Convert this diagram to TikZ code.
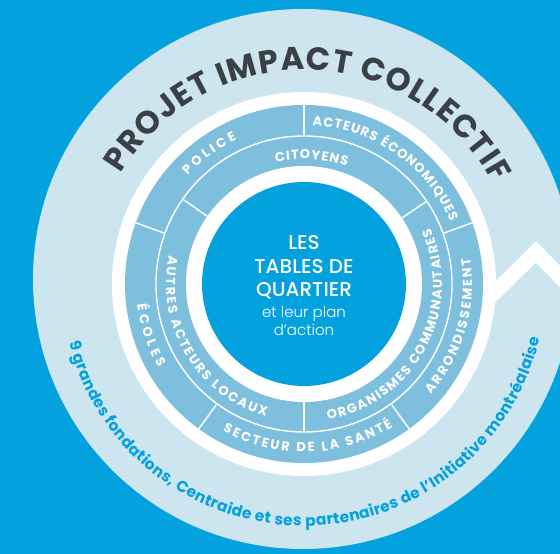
\documentclass[tikz,border=0pt]{standalone}
\usepackage{fontspec}
\setmainfont{Poppins}
\newfontfamily\mediumfont{Poppins}[UprightFont=* Medium]
\newfontfamily\lightfont{Poppins}[UprightFont=* Light]
\usetikzlibrary{calc,decorations.text}

\definecolor{skyblue}{HTML}{03A1DE}
\definecolor{paleblue}{HTML}{CCE5EF}
\definecolor{bandblue}{HTML}{7DBFDC}
\definecolor{slate}{HTML}{3B3F46}

\begin{document}
\begin{tikzpicture}[
  x=1pt, y=1pt,
  % thin white cuts between the sectors of a band
  divider/.style={draw=white, line width=1.4pt},
  % caps spread along an arc (clockwise arc: tops outward, ccw arc: tops inward)
  bandlabel/.style={decorate, decoration={text along path, text align=fit to path,
    text color=white, text={|\bfseries\fontsize{13}{13}\selectfont|#1}}},
  % lines of the centre disk
  hub/.style={text=white, anchor=base, inner sep=0pt},
]
  \clip (0,0) rectangle (560,554);
  \fill[skyblue] (0,0) rectangle (560,554);

  % === Outer arrow ring ===
  \fill[paleblue] (303,275) circle[radius=270];
  \coordinate (notchL) at (487,254);
  \coordinate (notchT) at (536,302);
  \coordinate (notchR) at (585,252);
  \draw[white, line width=15pt, miter limit=10] (notchL) -- (notchT) -- (notchR);

  % === Bands ===
  \coordinate (O) at (304,270);
  \fill[white] (O) circle[radius=192];
  \fill[bandblue] (O) circle[radius=179];
  \draw[white, line width=1.4pt] (O) circle[radius=148];
  \fill[white] (O) circle[radius=118];
  \fill[skyblue] (O) circle[radius=102];

  % outer band cuts
  \foreach \a in {20,90,160,234,306}
    \draw[divider] ($(O)+(\a:148)$) -- ($(O)+(\a:179)$);
  % inner band cuts
  \foreach \a in {34,145,270}
    \draw[divider] ($(O)+(\a:118)$) -- ($(O)+(\a:148)$);

  % === Band labels ===
  % outer band
  \path[bandlabel=POLICE] ($(O)+(137:159)$) arc[start angle=137, end angle=115, radius=159];
  \path[bandlabel=ACTEURS ÉCONOMIQUES] ($(O)+(87:159)$) arc[start angle=87, end angle=23, radius=159];
  \path[bandlabel=ARRONDISSEMENT] ($(O)+(-41:168)$) arc[start angle=-41, end angle=9, radius=168];
  \path[bandlabel=SECTEUR DE LA SANTÉ] ($(O)+(241:168)$) arc[start angle=241, end angle=302, radius=168];
  \path[bandlabel=ÉCOLES] ($(O)+(187:168)$) arc[start angle=187, end angle=210, radius=168];
  % inner band
  \path[bandlabel=CITOYENS] ($(O)+(103:125)$) arc[start angle=103, end angle=70, radius=125];
  \path[bandlabel=AUTRES ACTEURS LOCAUX] ($(O)+(168:138)$) arc[start angle=168, end angle=254, radius=138];
  \path[bandlabel=ORGANISMES COMMUNAUTAIRES] ($(O)+(-80:138)$) arc[start angle=-80, end angle=24, radius=138];

  % === Ring titles ===
  \path[decorate, decoration={text along path, text align=fit to path, text color=slate,
      text={|\bfseries\fontsize{32}{32}\selectfont|PROJET IMPACT COLLECTIF}}]
    ($(O)+(149:214)$) arc[start angle=149, end angle=28, radius=214];
  \path[decorate, decoration={text along path, text align=fit to path, text color=skyblue,
      text={|\bfseries\fontsize{15.5}{15.5}\selectfont|9 grandes fondations, Centraide et ses partenaires de l’Initiative montréalaise}}]
    ($(O)+(194:242)$) arc[start angle=194, end angle=347, radius=242];

  % === Centre ===
  \node[hub, font=\mediumfont\fontsize{20}{20}\selectfont] (les) at (304,304) {LES};
  \node[hub, font=\mediumfont\fontsize{20}{20}\selectfont] (tables) at (304,280) {TABLES DE};
  \node[hub, font=\mediumfont\fontsize{20}{20}\selectfont] (quartier) at (304,257) {QUARTIER};
  \node[hub, font=\lightfont\fontsize{15}{15}\selectfont] (plan) at (304,236) {et leur plan};
  \node[hub, font=\lightfont\fontsize{15}{15}\selectfont] (action) at (304,218) {d’action};
\end{tikzpicture}
\end{document}
